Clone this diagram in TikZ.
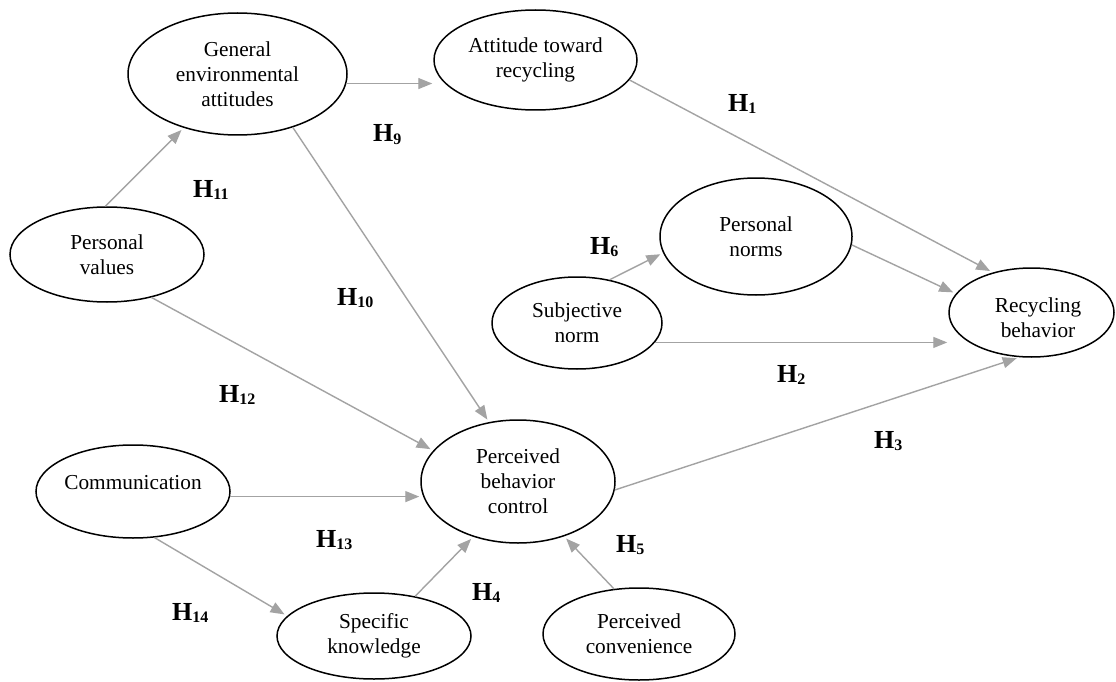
\documentclass[tikz,border=0pt]{standalone}
\usepackage{fontspec}
\setmainfont{Liberation Serif}
\usetikzlibrary{shapes.geometric,arrows.meta}
\definecolor{linkgray}{HTML}{A3A3A3}
\newcommand\hypo[1]{H\raisebox{-2pt}{\fontsize{16}{16}\selectfont #1}}
\begin{document}
\begin{tikzpicture}[x=1pt,y=-1pt,
  construct/.style={ellipse,draw=black,line width=1.5pt,inner sep=0pt,align=center,
    font=\fontsize{21.3}{25}\selectfont},
  caption/.style={inner sep=0pt,align=center,font=\fontsize{21.3}{25}\selectfont},
  link/.style={draw=linkgray,line width=1.4pt,shorten >=3pt,
    -{Triangle[length=14pt,width=11pt]}},
  hyp/.style={inner sep=0pt,anchor=base west,font=\fontsize{26}{30}\selectfont\bfseries}]
\fill[white] (0,0) rectangle (1116,682);
\useasboundingbox (0,0) rectangle (1116,682);

% constructs
\node[construct,minimum width=219pt,minimum height=122pt] (gea) at (237.5,74) {General\\environmental\\attitudes};
\node[construct,minimum width=203pt,minimum height=100pt] (atr) at (535.5,60) {Attitude toward\\recycling};
\node[construct,minimum width=194pt,minimum height=95pt] (pv) at (107,254.5) {Personal\\values};
\node[construct,minimum width=170pt,minimum height=92pt] (sn) at (577,323) {Subjective\\norm};
\node[construct,minimum width=192pt,minimum height=117pt] (pn) at (756,236.5) {Personal\\norms};
\node[construct,minimum width=165pt,minimum height=89pt] (rb) at (1031.5,312.5) {};
\node[caption] (rbtext) at (1038,317.5) {Recycling\\behavior};
\node[construct,minimum width=194pt,minimum height=123pt] (pbc) at (518,481.5) {Perceived\\behavior\\control};
\node[construct,minimum width=194pt,minimum height=93pt] (com) at (133,491.5) {};
\node[caption] (comtext) at (133,483) {Communication};
\node[construct,minimum width=194pt,minimum height=86pt] (sk) at (374,636) {Specific\\knowledge};
\node[construct,minimum width=192pt,minimum height=92pt] (pc) at (639,634) {Perceived\\convenience};

% hypothesised paths
\draw[link,shorten >=1pt] (gea.-5) -- (gea.-5 -| atr.west);
\draw[link] (atr.-12.5) -- (rb.134);
\draw[link] (pv.92.5) -- (gea.-135.7);
\draw[link] (gea.-44.3) -- (pbc.116.4);
\draw[link] (pv.-44) -- (pbc.160);
\draw[link,shorten >=1pt] (com.-3.3) -- (com.-3.3 -| pbc.west);
\draw[link] (com.-65.8) -- (sk.167);
\draw[link] (sk.44.4) -- (pbc.-129);
\draw[link] (pc.119.5) -- (pbc.-50.6);
\draw[link] (sn.53.9) -- (pn.190.2);
\draw[link] (pn.-5) -- (rb.166.5);
\draw[link,shorten >=1pt] (sn.-14.7) -- (sn.-14.7 -| rb.west);
\draw[link] (pbc.-5) -- (rb.-105);

% hypothesis labels
\node[hyp] (h1) at (728,112) {\hypo{1}};
\node[hyp] (h2) at (777,382) {\hypo{2}};
\node[hyp] (h3) at (874,448) {\hypo{3}};
\node[hyp] (h4) at (472,600) {\hypo{4}};
\node[hyp] (h5) at (616,552) {\hypo{5}};
\node[hyp] (h6) at (590,254) {\hypo{6}};
\node[hyp] (h9) at (373,142) {\hypo{9}};
\node[hyp] (h10) at (337,305) {\hypo{10}};
\node[hyp] (h11) at (193,197) {\hypo{11}};
\node[hyp] (h12) at (219,402) {\hypo{12}};
\node[hyp] (h13) at (316,547) {\hypo{13}};
\node[hyp] (h14) at (172,620) {\hypo{14}};
\end{tikzpicture}
\end{document}
